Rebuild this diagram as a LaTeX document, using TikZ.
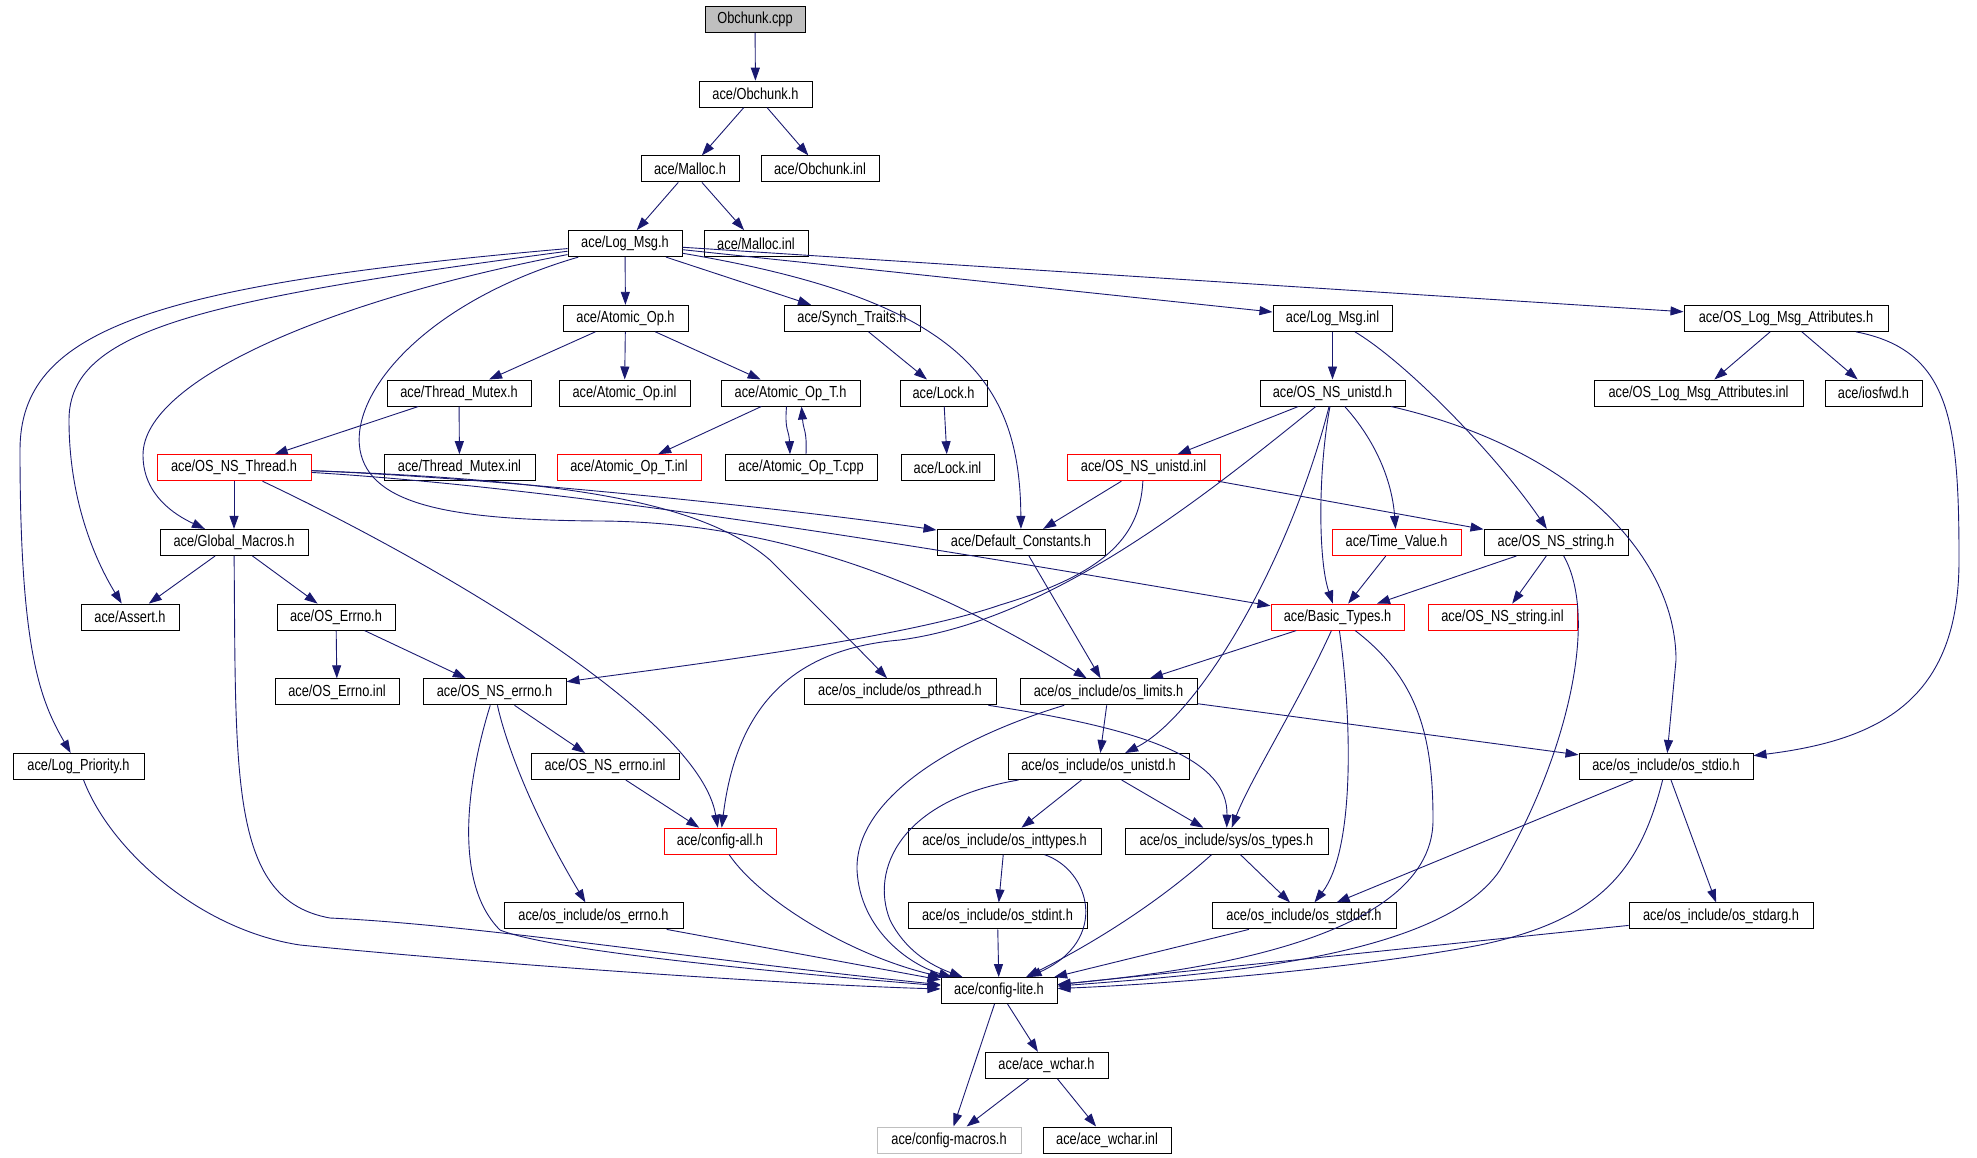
\documentclass[tikz,border=0pt]{standalone}
\usepackage{fontspec}
\setmainfont{Liberation Sans}[FakeStretch=0.8]
\usetikzlibrary{arrows.meta}
\definecolor{azularista}{RGB}{25,25,112}
\definecolor{grisfondo}{RGB}{191,191,191}
\tikzset{
  caja/.style={draw=black, line width=1pt, minimum height=26pt, inner sep=0pt,
    font=\fontsize{16}{18}\selectfont, text=black},
  cajaroja/.style={caja, draw=red},
  arista/.style={draw=azularista, line width=0.9pt, -{Triangle[length=13pt,width=9pt]}},
}
\begin{document}
\begin{tikzpicture}[x=1pt, y=-1pt]
  \useasboundingbox (0,0) rectangle (1977,1157);

  % Dibujar los ficheros
  \node[caja, fill=grisfondo, minimum width=100pt] (cpp) at (755,19.5) {Obchunk.cpp};
  \node[caja, minimum width=113pt] (obh) at (755.5,94.2) {ace/Obchunk.h};
  \node[caja, minimum width=98pt] (mal) at (690,168.9) {ace/Malloc.h};
  \node[caja, minimum width=118pt] (obinl) at (820,168.9) {ace/Obchunk.inl};
  \node[caja, minimum width=114pt] (log) at (625,243.6) {ace/Log\_Msg.h};
  \node[caja, minimum width=104pt] (malinl) at (756,243.6) {ace/Malloc.inl};

  \node[caja, minimum width=125pt] (aop) at (625.5,318.3) {ace/Atomic\_Op.h};
  \node[caja, minimum width=136pt] (synch) at (852,318.3) {ace/Synch\_Traits.h};
  \node[caja, minimum width=119pt] (loginl) at (1332.5,318.3) {ace/Log\_Msg.inl};
  \node[caja, minimum width=204pt] (attrs) at (1786,318.3) {ace/OS\_Log\_Msg\_Attributes.h};

  \node[caja, minimum width=144pt] (tmutex) at (459,393) {ace/Thread\_Mutex.h};
  \node[caja, minimum width=131pt] (aopinl) at (624.5,393) {ace/Atomic\_Op.inl};
  \node[caja, minimum width=139pt] (aopt) at (790.5,393) {ace/Atomic\_Op\_T.h};
  \node[caja, minimum width=87pt] (lock) at (943.5,393) {ace/Lock.h};
  \node[caja, minimum width=145pt] (nsunistd) at (1332.5,393) {ace/OS\_NS\_unistd.h};
  \node[caja, minimum width=209pt] (attrsinl) at (1698.5,393) {ace/OS\_Log\_Msg\_Attributes.inl};
  \node[caja, minimum width=97pt] (iosfwd) at (1873.5,393) {ace/iosfwd.h};

  \node[cajaroja, minimum width=154pt] (nsthread) at (234,467.7) {ace/OS\_NS\_Thread.h};
  \node[caja, minimum width=151pt] (tmutexinl) at (459.5,467.7) {ace/Thread\_Mutex.inl};
  \node[cajaroja, minimum width=144pt] (aoptinl) at (629,467.7) {ace/Atomic\_Op\_T.inl};
  \node[caja, minimum width=152pt] (aoptcpp) at (801,467.7) {ace/Atomic\_Op\_T.cpp};
  \node[caja, minimum width=93pt] (lockinl) at (947.5,467.7) {ace/Lock.inl};
  \node[cajaroja, minimum width=153pt] (nsunistdinl) at (1143.5,467.7) {ace/OS\_NS\_unistd.inl};

  \node[caja, minimum width=148pt] (gmac) at (234,542.4) {ace/Global\_Macros.h};
  \node[caja, minimum width=168pt] (defc) at (1021,542.4) {ace/Default\_Constants.h};
  \node[cajaroja, minimum width=129pt] (timev) at (1396.5,542.4) {ace/Time\_Value.h};
  \node[caja, minimum width=144pt] (nsstring) at (1556,542.4) {ace/OS\_NS\_string.h};

  \node[caja, minimum width=98pt] (assert) at (130,617.1) {ace/Assert.h};
  \node[caja, minimum width=118pt] (oserrno) at (336,617.1) {ace/OS\_Errno.h};
  \node[cajaroja, minimum width=133pt] (btypes) at (1337.5,617.1) {ace/Basic\_Types.h};
  \node[cajaroja, minimum width=149pt] (nsstringinl) at (1502.5,617.1) {ace/OS\_NS\_string.inl};

  \node[caja, minimum width=124pt] (oserrnoinl) at (337,691.8) {ace/OS\_Errno.inl};
  \node[caja, minimum width=143pt] (nserrno) at (494.5,691.8) {ace/OS\_NS\_errno.h};
  \node[caja, minimum width=192pt] (pthread) at (900,691.8) {ace/os\_include/os\_pthread.h};
  \node[caja, minimum width=177pt] (limits) at (1108.5,691.8) {ace/os\_include/os\_limits.h};

  \node[caja, minimum width=131pt] (lprio) at (78.5,766.5) {ace/Log\_Priority.h};
  \node[caja, minimum width=148pt] (nserrnoinl) at (605,766.5) {ace/OS\_NS\_errno.inl};
  \node[caja, minimum width=181pt] (osunistd) at (1098.5,766.5) {ace/os\_include/os\_unistd.h};
  \node[caja, minimum width=174pt] (stdio) at (1666,766.5) {ace/os\_include/os\_stdio.h};

  \node[cajaroja, minimum width=112pt] (cfgall) at (720,841.2) {ace/config-all.h};
  \node[caja, minimum width=193pt] (inttypes) at (1004.5,841.2) {ace/os\_include/os\_inttypes.h};
  \node[caja, minimum width=203pt] (ostypes) at (1226.5,841.2) {ace/os\_include/sys/os\_types.h};

  \node[caja, minimum width=179pt] (oserrnoh) at (593.5,915.9) {ace/os\_include/os\_errno.h};
  \node[caja, minimum width=179pt] (stdint) at (997.5,915.9) {ace/os\_include/os\_stdint.h};
  \node[caja, minimum width=184pt] (stddef) at (1304,915.9) {ace/os\_include/os\_stddef.h};
  \node[caja, minimum width=184pt] (stdarg) at (1721,915.9) {ace/os\_include/os\_stdarg.h};

  \node[caja, minimum width=116pt] (clite) at (999,990.6) {ace/config-lite.h};
  \node[caja, minimum width=123pt] (wchar) at (1046.5,1065.3) {ace/ace\_wchar.h};
  \node[caja, draw=grisfondo, minimum width=144pt] (cmacros) at (949,1140) {ace/config-macros.h};
  \node[caja, minimum width=128pt] (wcharinl) at (1107,1140) {ace/ace\_wchar.inl};

  % Dibujar las inclusiones
  \draw[arista] (cpp) -- (obh);
  \draw[arista] (obh) -- (mal);
  \draw[arista] (obh) -- (obinl);
  \draw[arista] (mal) -- (log);
  \draw[arista] (mal) -- (malinl);

  % Log_Msg.h
  \draw[arista] (log) -- (aop);
  \draw[arista] (log) -- (synch);
  \draw[arista] (log) -- (loginl);
  \draw[arista] (log) -- (attrs);
  \draw[arista] (log) .. controls (960,300) and (1020,380) .. (defc);
  \draw[arista] (log) .. controls (150,285) and (20,330) .. (20,450) .. controls (20,650) and (40,700) .. (lprio);
  \draw[arista] (log) .. controls (200,300) and (69,330) .. (69,420) .. controls (69,500) and (95,560) .. (assert);
  \draw[arista] (log) .. controls (330,300) and (143,380) .. (143,455) .. controls (143,495) and (175,515) .. (gmac);
  \draw[arista] (log) .. controls (430,300) and (350,390) .. (360,450) .. controls (370,505) and (450,520) .. (600,521) .. controls (800,522) and (960,600) .. (limits);

  \draw[arista] (aop) -- (tmutex);
  \draw[arista] (aop) -- (aopinl);
  \draw[arista] (aop) -- (aopt);
  \draw[arista] (synch) -- (lock);
  \draw[arista] (loginl) -- (nsunistd);
  \draw[arista] (loginl) .. controls (1410,365) and (1500,460) .. (nsstring);
  \draw[arista] (attrs) -- (attrsinl);
  \draw[arista] (attrs) -- (iosfwd);
  \draw[arista] (attrs) .. controls (1950,350) and (1959,420) .. (1959,560) .. controls (1959,700) and (1880,740) .. (stdio);

  \draw[arista] (tmutex) -- (nsthread);
  \draw[arista] (tmutex) -- (tmutexinl);
  \draw[arista] (aopt) -- (aoptinl);
  \draw[arista] ([xshift=-4pt]aopt.south) .. controls +(-2,25) and +(-1,-25) .. ([xshift=-11pt]aoptcpp.north);
  \draw[arista] ([xshift=5pt]aoptcpp.north) .. controls +(1,-25) and +(2,25) .. ([xshift=11pt]aopt.south);
  \draw[arista] (lock) -- (lockinl);

  % OS_NS_unistd
  \draw[arista] (nsunistd) -- (nsunistdinl);
  \draw[arista] (nsunistd) .. controls (1375,440) and (1392,480) .. (timev);
  \draw[arista] (nsunistd) .. controls (1318,470) and (1318,560) .. (btypes);
  \draw[arista] (nsunistd) .. controls (1290,560) and (1200,715) .. (osunistd);
  \draw[arista] (nsunistd) .. controls (1580,450) and (1676,560) .. (1676,660) -- (stdio);
  \draw[arista] (nsunistd) .. controls (1200,500) and (1050,620) .. (900,640) .. controls (780,650) and (735,720) .. (cfgall);
  \draw[arista] (nsunistdinl) -- (defc);
  \draw[arista] (nsunistdinl) -- (nsstring);
  \draw[arista] (nsunistdinl) .. controls (1140,540) and (1100,575) .. (1000,605) .. controls (900,640) and (650,670) .. (nserrno);

  \draw[arista] (timev) -- (btypes);
  \draw[arista] (nsstring) -- (btypes);
  \draw[arista] (nsstring) -- (nsstringinl);
  \draw[arista] (nsstring) .. controls (1600,620) and (1565,760) .. (1500,870) .. controls (1440,960) and (1200,975) .. (clite);

  % OS_NS_Thread.h
  \draw[arista] (nsthread) -- (gmac);
  \draw[arista] (nsthread) .. controls (500,478) and (800,510) .. (defc);
  \draw[arista] (nsthread) .. controls (600,490) and (1000,560) .. (btypes);
  \draw[arista] (nsthread) .. controls (560,480) and (700,500) .. (770,560) .. controls (820,610) and (860,650) .. (pthread);
  \draw[arista] (nsthread) .. controls (450,570) and (700,720) .. (cfgall);

  % Global_Macros.h y errno
  \draw[arista] (gmac) -- (assert);
  \draw[arista] (gmac) -- (oserrno);
  \draw[arista] (gmac) .. controls (236,780) and (230,900) .. (330,918) .. controls (480,925) and (700,960) .. (clite);
  \draw[arista] (oserrno) -- (oserrnoinl);
  \draw[arista] (oserrno) -- (nserrno);
  \draw[arista] (nserrno) -- (nserrnoinl);
  \draw[arista] (nserrno) .. controls (505,740) and (530,810) .. (oserrnoh);
  \draw[arista] (nserrno) .. controls (470,770) and (450,880) .. (500,930) .. controls (550,950) and (750,970) .. (clite);
  \draw[arista] (nserrnoinl) -- (cfgall);
  \draw[arista] (oserrnoh) -- (clite);
  \draw[arista] (lprio) .. controls (110,850) and (200,930) .. (300,945) .. controls (500,965) and (800,985) .. (clite);
  \draw[arista] (cfgall) .. controls (760,900) and (850,955) .. (clite);

  % Basic_Types.h
  \draw[arista] (btypes) -- (limits);
  \draw[arista] (btypes) .. controls (1300,700) and (1250,780) .. (ostypes);
  \draw[arista] (btypes) .. controls (1352,720) and (1355,850) .. (stddef);
  \draw[arista] (btypes) .. controls (1420,680) and (1433,740) .. (1433,820) .. controls (1433,950) and (1150,975) .. (clite);
  \draw[arista] (defc) -- (limits);

  % os_include
  \draw[arista] (pthread) .. controls (1150,730) and (1228,760) .. (ostypes);
  \draw[arista] (limits) -- (osunistd);
  \draw[arista] (limits) -- (stdio);
  \draw[arista] (limits) .. controls (950,740) and (855,800) .. (857,870) .. controls (860,930) and (910,965) .. (clite);
  \draw[arista] (osunistd) -- (inttypes);
  \draw[arista] (osunistd) -- (ostypes);
  \draw[arista] (osunistd) .. controls (900,800) and (870,870) .. (890,920) .. controls (905,950) and (930,965) .. (clite);
  \draw[arista] (inttypes) -- (stdint);
  \draw[arista] (inttypes) .. controls (1090,870) and (1110,940) .. (clite);
  \draw[arista] (stdint) -- (clite);
  \draw[arista] (ostypes) -- (stddef);
  \draw[arista] (ostypes) .. controls (1150,910) and (1080,950) .. (clite);
  \draw[arista] (stdio) -- (stddef);
  \draw[arista] (stdio) -- (stdarg);
  \draw[arista] (stdio) .. controls (1640,870) and (1600,920) .. (1480,945) .. controls (1350,970) and (1150,985) .. (clite);
  \draw[arista] (stdarg) -- (clite);
  \draw[arista] (stddef) -- (clite);

  % config-lite.h
  \draw[arista] (clite) -- (wchar);
  \draw[arista] (clite) -- (cmacros);
  \draw[arista] (wchar) -- (cmacros);
  \draw[arista] (wchar) -- (wcharinl);
\end{tikzpicture}
\end{document}
